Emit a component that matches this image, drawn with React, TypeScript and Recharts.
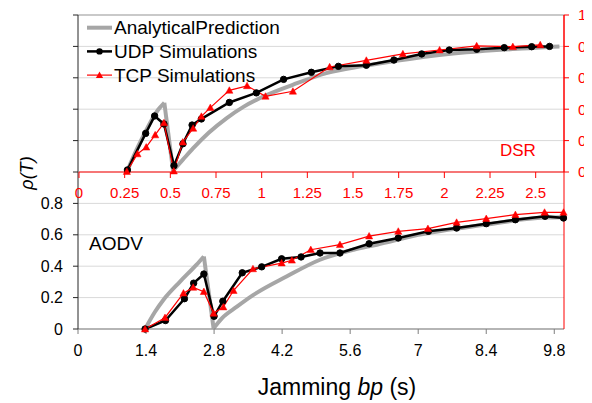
import { CartesianGrid, Legend, Line, LineChart, ReferenceLine, XAxis, YAxis } from 'recharts';

const FONT = '"Liberation Sans", Arial, sans-serif';
const RED = '#ff0000';
const GRAY = '#a6a6a6';

// top panel (DSR), x in seconds on the red axis, y on the red right axis
const dsrUdpX = [0.265, 0.365, 0.414, 0.465, 0.52, 0.569, 0.619, 0.67, 0.823, 0.971, 1.12, 1.272, 1.42, 1.573, 1.724, 1.876, 2.027, 2.177, 2.328, 2.478, 2.576];
const dsrUdpY = [0.013, 0.246, 0.357, 0.306, 0.04, 0.18, 0.299, 0.338, 0.443, 0.504, 0.59, 0.635, 0.673, 0.68, 0.713, 0.752, 0.777, 0.782, 0.792, 0.798, 0.8];
const dsrTcpX = [0.262, 0.32, 0.368, 0.417, 0.465, 0.519, 0.568, 0.625, 0.67, 0.719, 0.823, 0.92, 1.021, 1.171, 1.372, 1.573, 1.773, 1.974, 2.177, 2.375, 2.525];
const dsrTcpY = [0.003, 0.115, 0.158, 0.236, 0.313, 0.006, 0.19, 0.278, 0.354, 0.41, 0.52, 0.549, 0.482, 0.514, 0.669, 0.711, 0.752, 0.777, 0.803, 0.798, 0.81];
const dsrRiseX = [0.265, 0.323, 0.378, 0.432, 0.467];
const dsrRiseY = [0.01, 0.161, 0.289, 0.395, 0.441];
const dsrDropX = [0.467, 0.515];
const dsrDropY = [0.441, 0.008];
const dsrRecoverX = [0.515, 0.57, 0.624, 0.71, 0.807, 0.9, 0.989, 1.17, 1.354, 1.554, 1.81, 2.12, 2.48, 2.63];
const dsrRecoverY = [0.008, 0.08, 0.15, 0.25, 0.342, 0.415, 0.47, 0.555, 0.63, 0.675, 0.72, 0.762, 0.79, 0.8];

// bottom panel (AODV)
const aodvUdpX = [1.38, 1.8, 2.19, 2.38, 2.59, 2.8, 2.98, 3.38, 3.78, 4.19, 4.59, 4.98, 5.39, 5.99, 6.59, 7.21, 7.79, 8.4, 9.0, 9.61, 9.99];
const aodvUdpY = [0, 0.054, 0.193, 0.292, 0.35, 0.081, 0.177, 0.358, 0.396, 0.447, 0.459, 0.484, 0.484, 0.543, 0.58, 0.622, 0.643, 0.671, 0.696, 0.718, 0.707];
const aodvTcpX = [1.38, 1.79, 2.17, 2.37, 2.59, 2.79, 2.99, 3.2, 3.6, 4.19, 4.4, 4.79, 5.39, 5.99, 6.59, 7.2, 7.79, 8.4, 9.0, 9.6, 9.99];
const aodvTcpY = [0, 0.072, 0.228, 0.265, 0.238, 0.1, 0.14, 0.245, 0.383, 0.42, 0.438, 0.505, 0.537, 0.592, 0.622, 0.639, 0.679, 0.703, 0.728, 0.743, 0.743];
const aodvRiseX = [1.38, 1.585, 1.756, 2.1, 2.44, 2.59];
const aodvRiseY = [0, 0.11, 0.185, 0.302, 0.41, 0.462];
const aodvDropX = [2.59, 2.79];
const aodvDropY = [0.462, 0.004];
const aodvRecoverX = [2.79, 2.96, 3.27, 3.61, 4.29, 4.98, 5.67, 6.15, 7.0, 8.4, 9.6, 10];
const aodvRecoverY = [0.004, 0.068, 0.142, 0.217, 0.334, 0.441, 0.505, 0.537, 0.6, 0.665, 0.71, 0.712];

const bottomXTicks = [0, 1.4, 2.8, 4.2, 5.6, 7, 8.4, 9.8];
const topXTicks = [0, 0.25, 0.5, 0.75, 1, 1.25, 1.5, 1.75, 2, 2.25, 2.5];
const leftYTicks = [0, 0.2, 0.4, 0.6, 0.8, 1, 1.2, 1.4, 1.6, 1.8, 2];
const rightYTicks = [0, 0.2, 0.4, 0.6, 0.8, 1];
// the right-hand labels are cut by the picture's edge, only "0." shows
const rightYLabels = ['0', '0.', '0.', '0.', '0.', '1'];
const legendItems = ['AnalyticalPrediction', 'UDP Simulations', 'TCP Simulations'];

const zip = (xs: number[], ys: number[]) => xs.map((x, i) => ({ x, y: ys[i] }));

const triangle = (cx: number, cy: number, s = 3.6) =>
  `M${cx},${cy - s} L${cx + s},${cy + s * 0.8} L${cx - s},${cy + s * 0.8} Z`;

const TcpDot = (props: any) => {
  const { cx, cy, index } = props;
  if (cx == null || cy == null) return <g key={index} />;
  return <path key={index} d={triangle(cx, cy)} fill={RED} stroke={RED} strokeWidth={0.5} />;
};

const udpDot = { r: 3.2, fill: '#000', stroke: '#000', strokeWidth: 1 };

function LegendBox() {
  return (
    <svg width={230} height={84} style={{ display: 'block' }}>
      {legendItems.map((name, i) => {
        const y = 12.7 + 23.7 * i;
        return (
          <g key={name}>
            {i === 0 && <line x1={0} x2={25} y1={y} y2={y} stroke={GRAY} strokeWidth={4} />}
            {i === 1 && (
              <>
                <line x1={0} x2={25} y1={y} y2={y} stroke="#000" strokeWidth={2.5} />
                <circle cx={12.5} cy={y} r={3.2} fill="#000" />
              </>
            )}
            {i === 2 && (
              <>
                <line x1={0} x2={25} y1={y} y2={y} stroke={RED} strokeWidth={1.2} />
                <path d={triangle(12.5, y)} fill={RED} />
              </>
            )}
            <text x={27} y={y + 6.6} fontSize={19} fontFamily={FONT} fill="#000">
              {name}
            </text>
          </g>
        );
      })}
    </svg>
  );
}

export default function App() {
  const tickBlack = { fill: '#000', fontSize: 16, fontFamily: FONT };
  const tickRed = { fill: RED, fontSize: 15, fontFamily: FONT };

  return (
    <div style={{ position: 'relative', width: 584, height: 395, fontFamily: FONT }}>
      <div style={{ position: 'absolute', left: 0, top: 0 }}>
        <LineChart width={584} height={395} margin={{ top: 7, right: 0, bottom: 0, left: 0 }}>
          <CartesianGrid xAxisId="bottom" yAxisId="left" vertical={false} stroke="#d9d9d9" />
          <XAxis
            xAxisId="bottom"
            type="number"
            dataKey="x"
            domain={[0, 10]}
            ticks={bottomXTicks}
            interval={0}
            height={74}
            stroke="#7f7f7f"
            tickSize={5}
            tickMargin={11}
            tick={tickBlack}
          />
          <YAxis
            yAxisId="left"
            type="number"
            domain={[0, 2]}
            ticks={leftYTicks}
            interval={0}
            width={70}
            stroke="#262626"
            tickSize={5}
            tickMargin={10}
            tick={tickBlack}
            tickFormatter={(v: number) => (v <= 0.8 ? String(v) : '')}
          />
          <YAxis
            yAxisId="edge"
            orientation="right"
            type="number"
            domain={[0, 1]}
            ticks={[0]}
            width={28}
            stroke={RED}
            tickLine={false}
            tickMargin={22}
            tick={{ ...tickRed, fontSize: 13 }}
            tickFormatter={() => '.'}
          />
          <ReferenceLine xAxisId="bottom" yAxisId="left" y={2} stroke={GRAY} strokeWidth={1} />
          <Line xAxisId="bottom" yAxisId="left" data={zip(aodvRiseX, aodvRiseY)} dataKey="y" type="monotone" stroke={GRAY} strokeWidth={4} dot={false} activeDot={false} isAnimationActive={false} />
          <Line xAxisId="bottom" yAxisId="left" data={zip(aodvDropX, aodvDropY)} dataKey="y" type="linear" stroke={GRAY} strokeWidth={4} dot={false} activeDot={false} isAnimationActive={false} />
          <Line xAxisId="bottom" yAxisId="left" data={zip(aodvRecoverX, aodvRecoverY)} dataKey="y" type="monotone" stroke={GRAY} strokeWidth={4} dot={false} activeDot={false} isAnimationActive={false} />
          <Line xAxisId="bottom" yAxisId="left" data={zip(aodvUdpX, aodvUdpY)} dataKey="y" type="linear" stroke="#000" strokeWidth={2.5} dot={udpDot} activeDot={false} isAnimationActive={false} />
          <Line xAxisId="bottom" yAxisId="left" data={zip(aodvTcpX, aodvTcpY)} dataKey="y" type="linear" stroke={RED} strokeWidth={1.2} dot={TcpDot} activeDot={false} isAnimationActive={false} />
          <text x={19} y={165} transform="rotate(-90 19 165)" textAnchor="middle" dominantBaseline="central" fontSize={18} fontStyle="italic" fontFamily={FONT} fill="#000">
            ρ(T)
          </text>
          <text x={329} y={387} textAnchor="middle" fontSize={23} fontFamily={FONT} fill="#000">
            Jamming <tspan fontStyle="italic">bp</tspan> (s)
          </text>
          <text x={81} y={242} fontSize={19} fontFamily={FONT} fill="#000">
            AODV
          </text>
        </LineChart>
      </div>
      {/* overlay for the DSR panel; starts 8px higher so the "1" label has room */}
      <div style={{ position: 'absolute', left: 0, top: -8 }}>
        <LineChart width={584} height={208} margin={{ top: 15, right: 0, bottom: 0, left: 71 }}>
          <XAxis
            xAxisId="top"
            type="number"
            dataKey="x"
            domain={[0, 2.655]}
            ticks={topXTicks}
            interval={0}
            height={36}
            stroke={RED}
            tickSize={6}
            tickMargin={9}
            tick={tickRed}
          />
          <YAxis
            yAxisId="right"
            orientation="right"
            type="number"
            domain={[0, 1]}
            ticks={rightYTicks}
            interval={0}
            width={28}
            stroke={RED}
            tickSize={5}
            tickMargin={9}
            tick={tickRed}
            tickFormatter={(_v: number, i: number) => rightYLabels[i]}
          />
          <Line xAxisId="top" yAxisId="right" data={zip(dsrRiseX, dsrRiseY)} dataKey="y" type="monotone" stroke={GRAY} strokeWidth={4} dot={false} activeDot={false} isAnimationActive={false} />
          <Line xAxisId="top" yAxisId="right" data={zip(dsrDropX, dsrDropY)} dataKey="y" type="linear" stroke={GRAY} strokeWidth={4} dot={false} activeDot={false} isAnimationActive={false} />
          <Line xAxisId="top" yAxisId="right" data={zip(dsrRecoverX, dsrRecoverY)} dataKey="y" type="monotone" stroke={GRAY} strokeWidth={4} dot={false} activeDot={false} isAnimationActive={false} />
          <Line xAxisId="top" yAxisId="right" data={zip(dsrUdpX, dsrUdpY)} dataKey="y" type="linear" stroke="#000" strokeWidth={2.5} dot={udpDot} activeDot={false} isAnimationActive={false} />
          <Line xAxisId="top" yAxisId="right" data={zip(dsrTcpX, dsrTcpY)} dataKey="y" type="linear" stroke={RED} strokeWidth={1.2} dot={TcpDot} activeDot={false} isAnimationActive={false} />
          <Legend
            layout="vertical"
            align="center"
            verticalAlign="middle"
            wrapperStyle={{ position: 'absolute', left: 79, top: 15, width: 230, height: 84 }}
            content={() => <LegendBox />}
          />
          <text x={492} y={156} fontSize={17} fontFamily={FONT} fill={RED}>
            DSR
          </text>
        </LineChart>
      </div>
    </div>
  );
}
